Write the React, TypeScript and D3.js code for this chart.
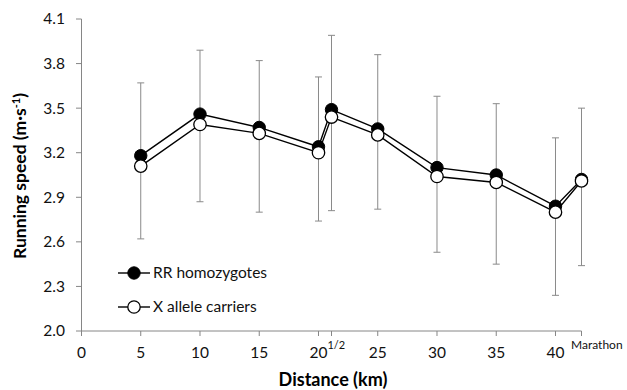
import React from 'react';
import * as d3 from 'd3';

// distances in km (21.0975 = half marathon, 42.195 = marathon)
const distances = [5, 10, 15, 20, 21.0975, 25, 30, 35, 40, 42.195];
const rrSpeed = [3.18, 3.46, 3.37, 3.24, 3.49, 3.36, 3.1, 3.05, 2.84, 3.02];
const xSpeed = [3.11, 3.39, 3.33, 3.2, 3.44, 3.32, 3.04, 3.0, 2.8, 3.01];
const errTop = [3.67, 3.89, 3.82, 3.71, 3.99, 3.86, 3.58, 3.53, 3.3, 3.5];
const errBottom = [2.62, 2.87, 2.8, 2.74, 2.81, 2.82, 2.53, 2.45, 2.24, 2.44];
const yTicks = [2.0, 2.3, 2.6, 2.9, 3.2, 3.5, 3.8, 4.1];
const xTickLabels = [0, 5, 10, 15, 20, 25, 30, 35, 40];

const W = 627;
const H = 390;
const FONT = 'Lato, "Open Sans", sans-serif';
const AXIS = '#868686';
const INK = '#111';

export default function App() {
  const x = d3.scaleLinear().domain([0, 42.195]).range([81.5, 581.5]);
  const y = d3.scaleLinear().domain([2.0, 4.1]).range([331, 19]);

  const line = d3
    .line<number>()
    .x((_, i) => x(distances[i]))
    .y((d) => y(d));

  const r = 6.2;
  const tickPositions = [...xTickLabels, 21.0975, 42.195];

  return (
    <svg
      width={W}
      height={H}
      style={{ position: 'absolute', left: 0, top: 0, background: '#fff' }}
      fontFamily={FONT}
    >
      {/* error bars */}
      <g stroke="#8a8a8a" strokeWidth={1}>
        {distances.map((d, i) => (
          <g key={i}>
            <line x1={x(d)} x2={x(d)} y1={y(errTop[i])} y2={y(errBottom[i])} />
            <line x1={x(d) - 3.5} x2={x(d) + 3.5} y1={y(errTop[i])} y2={y(errTop[i])} />
            <line x1={x(d) - 3.5} x2={x(d) + 3.5} y1={y(errBottom[i])} y2={y(errBottom[i])} />
          </g>
        ))}
      </g>

      {/* y axis */}
      <line x1={81.5} x2={81.5} y1={19} y2={331} stroke={AXIS} />
      {yTicks.map((t) => (
        <g key={t}>
          <line x1={76} x2={81.5} y1={y(t)} y2={y(t)} stroke={AXIS} />
          <text x={65} y={y(t)} dy="0.35em" textAnchor="end" fontSize={15.5} fill={INK}>
            {t.toFixed(1)}
          </text>
        </g>
      ))}

      {/* x axis */}
      <line x1={81.5} x2={581.5} y1={331} y2={331} stroke={AXIS} />
      {tickPositions.map((t) => (
        <line key={t} x1={x(t)} x2={x(t)} y1={331} y2={336} stroke={AXIS} />
      ))}
      {xTickLabels.map((t) => (
        <text key={t} x={x(t)} y={358} textAnchor="middle" fontSize={15.5} fill={INK}>
          {t}
        </text>
      ))}
      <text x={x(20) + 9} y={349} fontSize={11} fill={INK}>
        1/2
      </text>
      <text x={571} y={349} fontSize={12} fill={INK}>
        Marathon
      </text>

      {/* series */}
      <path d={line(rrSpeed) || ''} fill="none" stroke="#000" strokeWidth={1.4} />
      <path d={line(xSpeed) || ''} fill="none" stroke="#000" strokeWidth={1.4} />
      {rrSpeed.map((v, i) => (
        <circle key={'rr' + i} cx={x(distances[i])} cy={y(v)} r={r} fill="#000" stroke="#000" />
      ))}
      {xSpeed.map((v, i) => (
        <circle key={'x' + i} cx={x(distances[i])} cy={y(v)} r={r} fill="#fff" stroke="#000" strokeWidth={1.3} />
      ))}

      {/* legend */}
      <line x1={118} x2={150} y1={273} y2={273} stroke="#000" strokeWidth={1.4} />
      <circle cx={134} cy={273} r={r} fill="#000" stroke="#000" />
      <text x={153} y={273} dy="0.35em" fontSize={15.5} fill={INK}>
        RR homozygotes
      </text>
      <line x1={118} x2={150} y1={307} y2={307} stroke="#000" strokeWidth={1.4} />
      <circle cx={134} cy={307} r={r} fill="#fff" stroke="#000" strokeWidth={1.3} />
      <text x={153} y={307} dy="0.35em" fontSize={15.5} fill={INK}>
        X allele carriers
      </text>

      {/* axis titles */}
      <text x={333} y={386} textAnchor="middle" fontSize={18} fontWeight="bold" fill="#000">
        Distance (km)
      </text>
      <text
        transform={`translate(26,${176}) rotate(-90)`}
        textAnchor="middle"
        fontSize={17.5}
        fontWeight="bold"
        fill="#000"
      >
        Running speed (m·s<tspan dy={-6} fontSize={11}>-1</tspan>
        <tspan dy={6}>)</tspan>
      </text>
    </svg>
  );
}
